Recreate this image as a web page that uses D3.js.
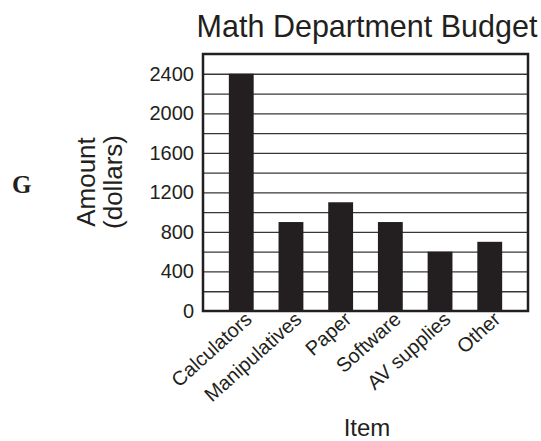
<!DOCTYPE html>
<meta charset="utf-8">
<style>
  body { margin: 0; background: #fff; }
  text { font-family: "Liberation Sans", Arial, sans-serif; fill: #231f20; }
  .grid line { stroke: #3a3637; stroke-width: 1.3; }
  .grid path { display: none; }
  .bar { fill: #231f20; }
</style>
<body>
<script src="https://cdn.jsdelivr.net/npm/d3@7"></script>
<script>

var width = 541,
    height = 441;

// chart data
var items = ["Calculators", "Manipulatives", "Paper", "Software", "AV supplies", "Other"];
var amounts = [2400, 900, 1100, 900, 600, 700];
var yTicks = [0, 400, 800, 1200, 1600, 2000, 2400];
var gridTicks = [200, 400, 600, 800, 1000, 1200, 1400, 1600, 1800, 2000, 2200, 2400];

var plotLeft = 203, plotRight = 528, plotTop = 54, plotBottom = 311;

var svg = d3.select("body").append("svg")
    .attr("width", width)
    .attr("height", height);

var x = d3.scaleBand()
    .domain(items)
    .range([plotLeft, plotRight])
    .paddingInner(0.5)
    .paddingOuter(0.52);

var y = d3.scaleLinear()
    .domain([0, 2600])
    .range([plotBottom, plotTop]);

// gridlines
svg.append("g")
    .attr("class", "grid")
    .attr("transform", "translate(" + plotLeft + ",0)")
    .call(d3.axisLeft(y).tickValues(gridTicks).tickSize(-(plotRight - plotLeft)).tickFormat(""));

// bars
svg.selectAll(".bar")
    .data(items)
  .enter().append("rect")
    .attr("class", "bar")
    .attr("x", function(d) { return x(d); })
    .attr("width", x.bandwidth())
    .attr("y", function(d, i) { return y(amounts[i]); })
    .attr("height", function(d, i) { return plotBottom - y(amounts[i]); });

// frame
svg.append("rect")
    .attr("x", plotLeft)
    .attr("y", plotTop)
    .attr("width", plotRight - plotLeft)
    .attr("height", plotBottom - plotTop)
    .attr("fill", "none")
    .attr("stroke", "#231f20")
    .attr("stroke-width", 2.5);

// y tick labels
var yAxis = svg.append("g")
    .attr("transform", "translate(" + plotLeft + ",0)")
    .call(d3.axisLeft(y).tickValues(yTicks).tickSize(0).tickPadding(9).tickFormat(d3.format("d")));
yAxis.select(".domain").remove();
yAxis.selectAll("text")
    .style("font-size", "20px")
    .style("font-family", "Liberation Sans, Arial, sans-serif")
    .style("fill", "#231f20");

// x labels
svg.selectAll(".xlabel")
    .data(items)
  .enter().append("text")
    .attr("class", "xlabel")
    .attr("text-anchor", "end")
    .style("font-size", "20px")
    .attr("transform", function(d) {
      return "translate(" + (x(d) + x.bandwidth() / 2 + 12) + "," + (plotBottom + 10) + ") rotate(-42)";
    })
    .text(function(d) { return d; });

// title
svg.append("text")
    .attr("x", 367)
    .attr("y", 37)
    .attr("text-anchor", "middle")
    .style("font-size", "30.5px")
    .text("Math Department Budget");

// y axis label
svg.append("text")
    .attr("transform", "translate(95,182) rotate(-90)")
    .attr("text-anchor", "middle")
    .style("font-size", "26px")
    .text("Amount");
svg.append("text")
    .attr("transform", "translate(122,182) rotate(-90)")
    .attr("text-anchor", "middle")
    .style("font-size", "26px")
    .text("(dollars)");

// x axis label
svg.append("text")
    .attr("x", 367)
    .attr("y", 436)
    .attr("text-anchor", "middle")
    .style("font-size", "24px")
    .text("Item");

// question letter
svg.append("text")
    .attr("x", 12)
    .attr("y", 193)
    .style("font-family", "'Liberation Serif', 'DejaVu Serif', serif")
    .style("font-weight", "bold")
    .style("font-size", "25px")
    .text("G");

</script>
